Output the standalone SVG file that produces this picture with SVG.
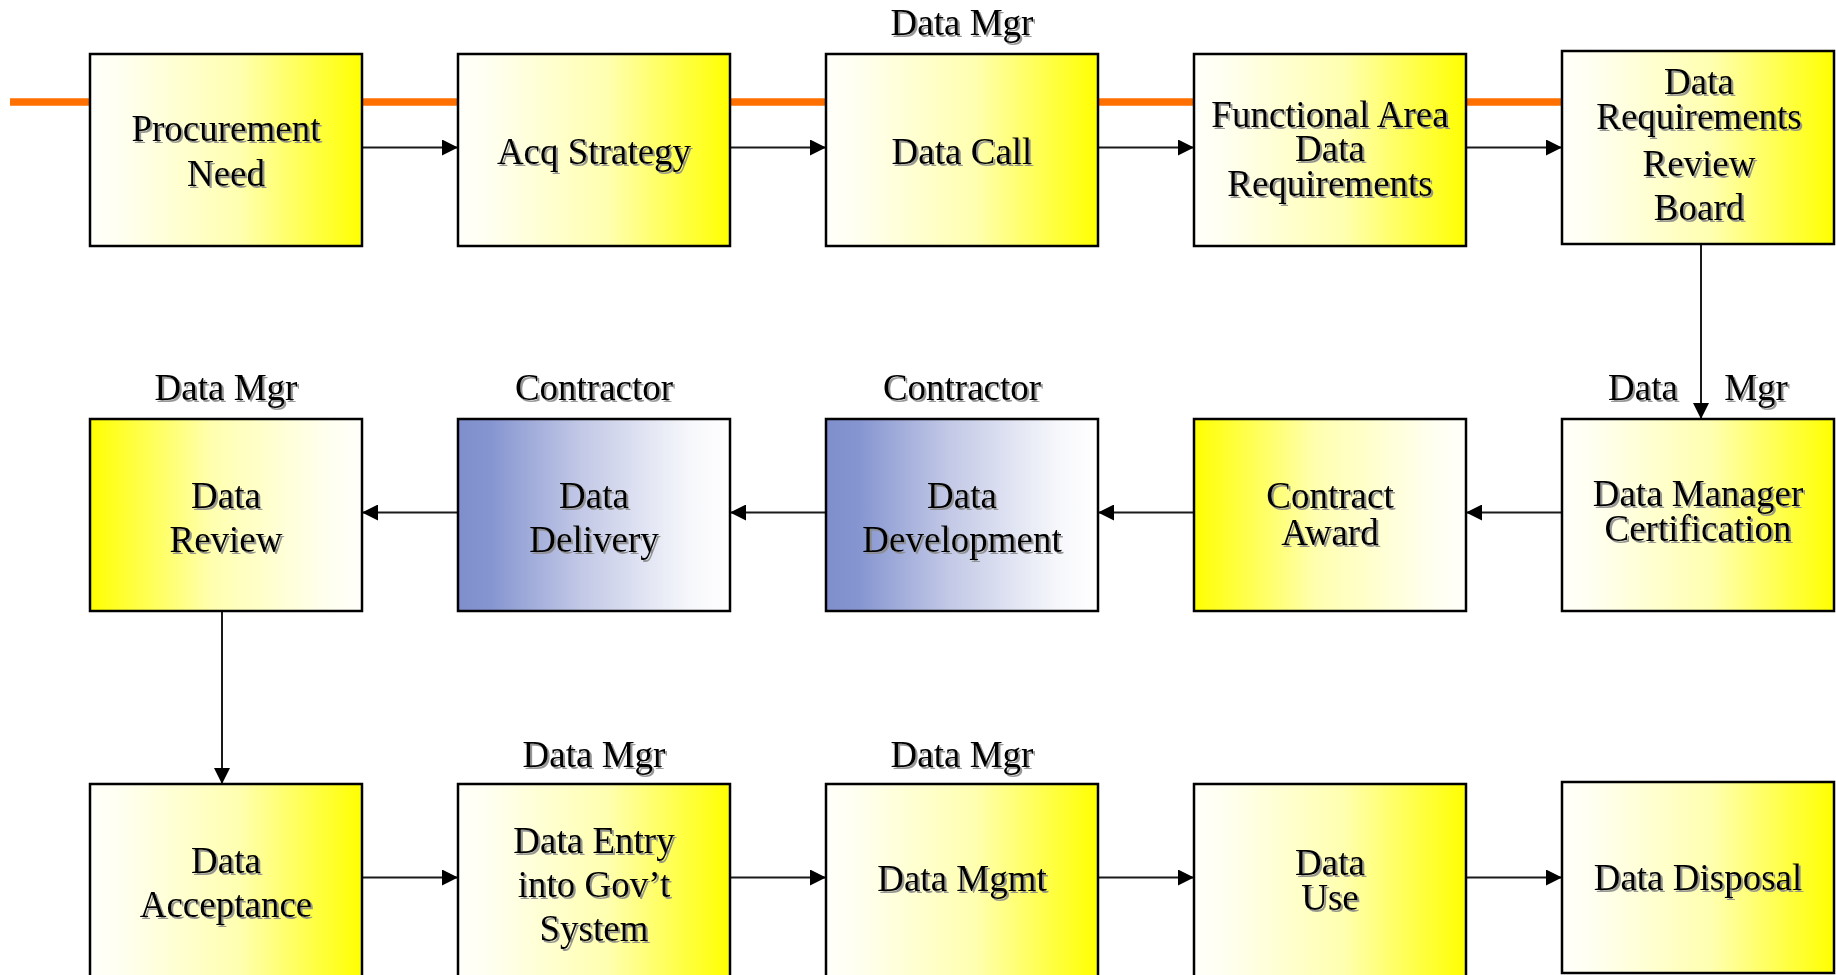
<svg xmlns="http://www.w3.org/2000/svg" width="1836" height="975" viewBox="0 0 1836 975">
  <defs>
    <!-- white to yellow, left to right -->
    <linearGradient id="wy" x1="0" y1="0" x2="1" y2="0">
      <stop offset="0" stop-color="#FFFFFA"/>
      <stop offset="0.12" stop-color="#FFFFF0"/>
      <stop offset="0.55" stop-color="#FFFFB0"/>
      <stop offset="1" stop-color="#FFFF00"/>
    </linearGradient>
    <!-- yellow to white, left to right -->
    <linearGradient id="yw" x1="0" y1="0" x2="1" y2="0">
      <stop offset="0" stop-color="#FFFF00"/>
      <stop offset="0.45" stop-color="#FFFFB0"/>
      <stop offset="0.88" stop-color="#FFFFF0"/>
      <stop offset="1" stop-color="#FFFFFA"/>
    </linearGradient>
    <!-- blue to white, left to right -->
    <linearGradient id="bw" x1="0" y1="0" x2="1" y2="0">
      <stop offset="0" stop-color="#7F8FCD"/>
      <stop offset="0.12" stop-color="#8595D0"/>
      <stop offset="0.45" stop-color="#C2C8E6"/>
      <stop offset="0.85" stop-color="#F6F7FB"/>
      <stop offset="1" stop-color="#FFFFFF"/>
    </linearGradient>
    <filter id="shadow" x="-10%" y="-20%" width="120%" height="150%">
      <feDropShadow dx="2" dy="2" stdDeviation="0.6" flood-color="#8C8C8C" flood-opacity="0.9"/>
    </filter>
    <marker id="arrow" viewBox="0 0 16 16" refX="16" refY="8" markerWidth="16" markerHeight="16" markerUnits="userSpaceOnUse" orient="auto">
      <path d="M0,0 L16,8 L0,16 Z" fill="#000"/>
    </marker>
  </defs>
  <style>
    .box { stroke: #000; stroke-width: 2.5; }
    .t { font-family: "Liberation Serif", "Times New Roman", serif; font-size: 37px; fill: #000; text-anchor: middle; filter: url(#shadow); }
    .conn { stroke: #1a1a1a; stroke-width: 2; fill: none; marker-end: url(#arrow); }
    .band { stroke: #FF7000; stroke-width: 7.5; }
  </style>

  <rect width="1836" height="975" fill="#FFFFFF"/>

  <!-- orange timeline behind the top row -->
  <line class="band" x1="10" y1="102" x2="1562" y2="102"/>

  <g id="connectors">
    <line class="conn" x1="362" y1="147.5" x2="458" y2="147.5"/>
    <line class="conn" x1="730" y1="147.5" x2="826" y2="147.5"/>
    <line class="conn" x1="1098" y1="147.5" x2="1194" y2="147.5"/>
    <line class="conn" x1="1466" y1="147.5" x2="1562" y2="147.5"/>
    <line class="conn" x1="1701" y1="244" x2="1701" y2="419"/>
    <line class="conn" x1="1562" y1="512.5" x2="1466" y2="512.5"/>
    <line class="conn" x1="1194" y1="512.5" x2="1098" y2="512.5"/>
    <line class="conn" x1="826" y1="512.5" x2="730" y2="512.5"/>
    <line class="conn" x1="458" y1="512.5" x2="362" y2="512.5"/>
    <line class="conn" x1="222" y1="611" x2="222" y2="784"/>
    <line class="conn" x1="362" y1="877.5" x2="458" y2="877.5"/>
    <line class="conn" x1="730" y1="877.5" x2="826" y2="877.5"/>
    <line class="conn" x1="1098" y1="877.5" x2="1194" y2="877.5"/>
    <line class="conn" x1="1466" y1="877.5" x2="1562" y2="877.5"/>
  </g>

  <!-- row 1 -->
  <g id="procurement-need">
    <rect class="box" x="90" y="54" width="272" height="192" fill="url(#wy)"/>
    <text class="t" x="226" y="141">Procurement</text>
    <text class="t" x="226" y="186">Need</text>
  </g>
  <g id="acq-strategy">
    <rect class="box" x="458" y="54" width="272" height="192" fill="url(#wy)"/>
    <text class="t" x="594" y="164">Acq Strategy</text>
  </g>
  <g id="data-call">
    <text class="t" x="962" y="35">Data Mgr</text>
    <rect class="box" x="826" y="54" width="272" height="192" fill="url(#wy)"/>
    <text class="t" x="962" y="164">Data Call</text>
  </g>
  <g id="functional-area">
    <rect class="box" x="1194" y="54" width="272" height="192" fill="url(#wy)"/>
    <text class="t" x="1330" y="127">Functional Area</text>
    <text class="t" x="1330" y="161">Data</text>
    <text class="t" x="1330" y="196">Requirements</text>
  </g>
  <g id="drrb">
    <rect class="box" x="1562" y="51" width="272" height="193" fill="url(#wy)"/>
    <text class="t" x="1699" y="94">Data</text>
    <text class="t" x="1699" y="129">Requirements</text>
    <text class="t" x="1699" y="176">Review</text>
    <text class="t" x="1699" y="220">Board</text>
  </g>

  <!-- row 2 -->
  <g id="data-manager-certification">
    <text class="t" x="1643" y="400">Data</text>
    <text class="t" x="1756" y="400">Mgr</text>
    <rect class="box" x="1562" y="419" width="272" height="192" fill="url(#wy)"/>
    <text class="t" x="1698" y="506">Data Manager</text>
    <text class="t" x="1698" y="541">Certification</text>
  </g>
  <g id="contract-award">
    <rect class="box" x="1194" y="419" width="272" height="192" fill="url(#yw)"/>
    <text class="t" x="1330" y="508">Contract</text>
    <text class="t" x="1330" y="545">Award</text>
  </g>
  <g id="data-development">
    <text class="t" x="962" y="400">Contractor</text>
    <rect class="box" x="826" y="419" width="272" height="192" fill="url(#bw)"/>
    <text class="t" x="962" y="508">Data</text>
    <text class="t" x="962" y="552">Development</text>
  </g>
  <g id="data-delivery">
    <text class="t" x="594" y="400">Contractor</text>
    <rect class="box" x="458" y="419" width="272" height="192" fill="url(#bw)"/>
    <text class="t" x="594" y="508">Data</text>
    <text class="t" x="594" y="552">Delivery</text>
  </g>
  <g id="data-review">
    <text class="t" x="226" y="400">Data Mgr</text>
    <rect class="box" x="90" y="419" width="272" height="192" fill="url(#yw)"/>
    <text class="t" x="226" y="508">Data</text>
    <text class="t" x="226" y="552">Review</text>
  </g>

  <!-- row 3 -->
  <g id="data-acceptance">
    <rect class="box" x="90" y="784" width="272" height="196" fill="url(#wy)"/>
    <text class="t" x="226" y="873">Data</text>
    <text class="t" x="226" y="917">Acceptance</text>
  </g>
  <g id="data-entry">
    <text class="t" x="594" y="767">Data Mgr</text>
    <rect class="box" x="458" y="784" width="272" height="196" fill="url(#wy)"/>
    <text class="t" x="594" y="853">Data Entry</text>
    <text class="t" x="594" y="897">into Gov’t</text>
    <text class="t" x="594" y="941">System</text>
  </g>
  <g id="data-mgmt">
    <text class="t" x="962" y="767">Data Mgr</text>
    <rect class="box" x="826" y="784" width="272" height="196" fill="url(#wy)"/>
    <text class="t" x="962" y="891">Data Mgmt</text>
  </g>
  <g id="data-use">
    <rect class="box" x="1194" y="784" width="272" height="196" fill="url(#wy)"/>
    <text class="t" x="1330" y="875">Data</text>
    <text class="t" x="1330" y="910">Use</text>
  </g>
  <g id="data-disposal">
    <rect class="box" x="1562" y="782" width="272" height="191" fill="url(#wy)"/>
    <text class="t" x="1698" y="890">Data Disposal</text>
  </g>
</svg>
